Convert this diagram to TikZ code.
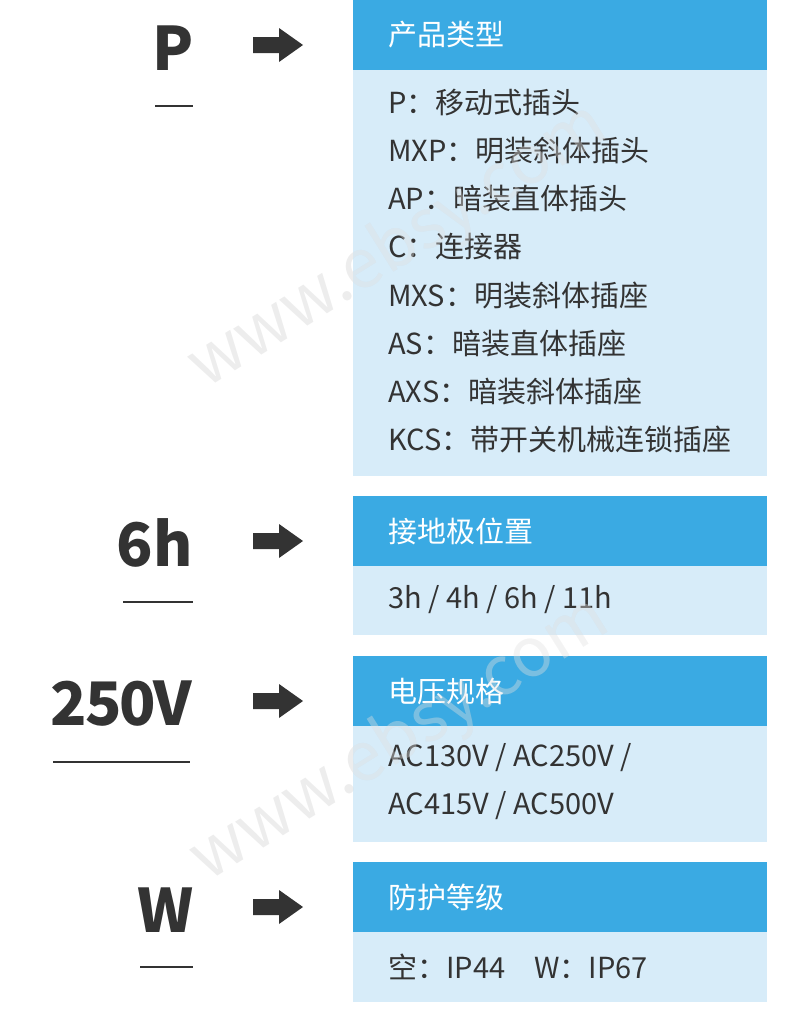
\documentclass[tikz,border=0pt]{standalone}
\usepackage{fontspec}
\setmainfont{Noto Sans CJK SC}
\newfontfamily\lblfont{Noto Sans CJK SC}
\newfontfamily\lbltight{Noto Sans CJK SC}[LetterSpace=-4]
\definecolor{hdrblue}{HTML}{3AAAE3}
\definecolor{bodyblue}{HTML}{D7ECF9}
\definecolor{txtdark}{HTML}{333333}
\tikzset{
  hdrbox/.style={fill=hdrblue, draw=none, minimum width=414pt, minimum height=70pt, anchor=north west, inner sep=0},
  bodybox/.style={fill=bodyblue, draw=none, minimum width=414pt, anchor=north west, inner sep=0},
  htext/.style={text=white, font=\fontsize{29}{29}\selectfont, anchor=west, inner sep=0},
  btext/.style={text=txtdark, font=\fontsize{29}{29}\selectfont, anchor=west, inner sep=0},
  lbl/.style={text=txtdark, font=\lblfont\bfseries\fontsize{60}{60}\selectfont, anchor=base east, inner sep=0},
  lbltightstyle/.style={text=txtdark, font=\lbltight\bfseries\fontsize{60}{60}\selectfont, anchor=base east, inner sep=0},
  uline/.style={draw=txtdark, line width=2.5pt},
  wmark/.style={font=\fontsize{68}{68}\selectfont, rotate=32, inner sep=0},
  barrow/.pic={\fill[txtdark] (0,-8) -- (26,-8) -- (26,-17) -- (50,0) -- (26,17) -- (26,8) -- (0,8) -- cycle;}
}
\begin{document}
\begin{tikzpicture}[x=1pt,y=-1pt]
\useasboundingbox (0,0) rectangle (790,1017);
% boxes
\node[hdrbox] (h1) at (353,0) {};
\node[bodybox, minimum height=406pt] (b1) at (353,70) {};
\node[hdrbox] (h2) at (353,496) {};
\node[bodybox, minimum height=69pt] (b2) at (353,566) {};
\node[hdrbox] (h3) at (353,656) {};
\node[bodybox, minimum height=116pt] (b3) at (353,726) {};
\node[hdrbox] (h4) at (353,862) {};
\node[bodybox, minimum height=70pt] (b4) at (353,932) {};
% header texts
\node[htext] (t1) at (388,35) {产品类型};
\node[htext] (t2) at (388,531) {接地极位置};
\node[htext] (t3) at (388,691) {电压规格};
\node[htext] (t4) at (388,897) {防护等级};
% body texts
\node[btext] (p1) at (388,103) {P：移动式插头};
\node[btext] (p2) at (388,151) {MXP：明装斜体插头};
\node[btext] (p3) at (388,199) {AP：暗装直体插头};
\node[btext] (p4) at (388,247) {C：连接器};
\node[btext] (p5) at (388,295) {MXS：明装斜体插座};
\node[btext] (p6) at (388,343) {AS：暗装直体插座};
\node[btext] (p7) at (388,391) {AXS：暗装斜体插座};
\node[btext] (p8) at (388,439) {KCS：带开关机械连锁插座};
\node[btext] (g1) at (388,600) {3h / 4h / 6h / 11h};
\node[btext] (v1) at (388,758) {AC130V / AC250V /};
\node[btext] (v2) at (388,806) {AC415V / AC500V};
\node[btext] (w1) at (388,967) {空：IP44\hspace{1em}W：IP67};
% left labels
\node[lbl] (lP) at (194,70) {P};
\node[lbl] (l6) at (193,566) {6h};
\node[lbltightstyle] (l250) at (192,725) {250V};
\node[lbl] (lW) at (194,932) {W};
\draw[uline] (155,106) -- (193,106);
\draw[uline] (123,602) -- (193,602);
\draw[uline] (53,762) -- (190,762);
\draw[uline] (140,967) -- (193,967);
% arrows
\pic (a1) at (253,45) {barrow};
\pic (a2) at (253,541) {barrow};
\pic (a3) at (253,701) {barrow};
\pic (a4) at (253,907) {barrow};
% watermark
\node[wmark, text=black, opacity=0.07] (wm1) at (398,247) {www.ebsy.com};
\node[wmark, text=black, opacity=0.07] (wm2) at (400,740) {www.ebsy.com};
\begin{scope}
\clip (353,0) rectangle (767,1002);
\node[wmark, text=white, opacity=0.35] (wm1b) at (398,247) {www.ebsy.com};
\node[wmark, text=white, opacity=0.35] (wm2b) at (400,740) {www.ebsy.com};
\end{scope}
\end{tikzpicture}
\end{document}
